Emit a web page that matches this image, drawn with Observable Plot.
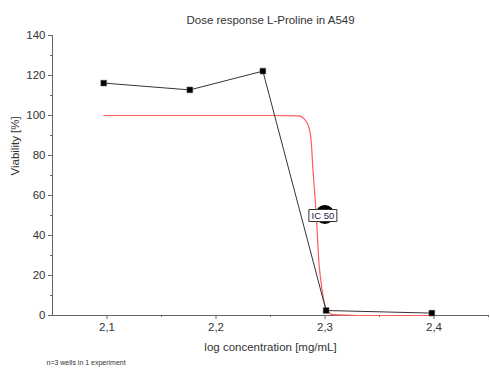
<!DOCTYPE html>
<html>
<head>
<meta charset="utf-8">
<script src="https://cdn.jsdelivr.net/npm/d3@7"></script>
<script src="https://cdn.jsdelivr.net/npm/@observablehq/plot@0.6"></script>
<style>
  html, body { margin: 0; padding: 0; background: #fff; }
</style>
</head>
<body>
<div id="chart"></div>
<script>
// Measured viability at each log10 concentration (mg/mL)
const logConc = [2.097, 2.176, 2.243, 2.301, 2.398];
const viability = [116.2, 112.8, 122.2, 2.5, 1.2];

// Fitted dose-response curve, sampled along its path
const fitX = [2.097, 2.25, 2.2757, 2.2821, 2.2851, 2.2873, 2.2888, 2.2906, 2.292, 2.2943, 2.2974, 2.3005, 2.3035, 2.3066, 2.33, 2.398];
const fitY = [100, 100, 99.8, 97.5, 94.2, 87.5, 74.2, 60.8, 50, 27.5, 12.5, 4.2, 1.7, 0.4, 0, 0];

// IC50 position on the fit
const ic50X = [2.2985];
const ic50Y = [50];

const xMajor = [2.1, 2.2, 2.3, 2.4];
const xMinor = [2.15, 2.25, 2.35, 2.45];
const yMajor = [0, 20, 40, 60, 80, 100, 120, 140];
const yMinor = [10, 30, 50, 70, 90, 110, 130];

const titleText = "Dose response L-Proline in A549";
const xLabel = "log concentration [mg/mL]";
const yLabel = "Viability [%]";
const footnote = "n=3 wells in 1 experiment";

const points = logConc.map((x, i) => ({x, y: viability[i]}));
const fit = fitX.map((x, i) => ({x, y: fitY[i]}));
const ic50 = ic50X.map((x, i) => ({x, y: ic50Y[i], label: "IC 50"}));

const commaFmt = d => d.toFixed(1).replace(".", ",");
const axisColor = "#666";

// Rectangular label box drawn as a dot symbol of fixed size
const labelBox = {draw(ctx) { ctx.rect(-14, -6, 28, 12); }};

const chart = Plot.plot({
  width: 490,
  height: 381,
  marginLeft: 52,
  marginRight: 2,
  marginTop: 35,
  marginBottom: 66,
  style: {fontFamily: "'Liberation Sans', Arial, sans-serif", fontSize: "11px", color: "#333", background: "#fff"},
  x: {domain: [2.05, 2.45], label: null},
  y: {domain: [0, 140], label: null},
  marks: [
    // axis lines
    Plot.ruleX([2.05], {stroke: axisColor, strokeWidth: 1}),
    Plot.ruleY([0], {stroke: axisColor, strokeWidth: 1}),
    // y axis
    Plot.axisY(yMajor, {tickSize: 4, tickPadding: 3, stroke: axisColor, fill: "#333", fontSize: 11.5}),
    Plot.axisY(yMinor, {tickSize: 2, tickFormat: () => "", stroke: axisColor}),
    // x axis
    Plot.axisX(xMajor, {tickSize: 4, tickPadding: 3, tickFormat: commaFmt, stroke: axisColor, fill: "#333", fontSize: 11.5}),
    Plot.axisX(xMinor, {tickSize: 2, tickFormat: () => "", stroke: axisColor}),
    // fitted curve
    Plot.line(fit, {x: "x", y: "y", stroke: "#ff5b5b", strokeWidth: 1.2, curve: "monotone-x"}),
    // measured data
    Plot.line(points, {x: "x", y: "y", stroke: "#333", strokeWidth: 1}),
    Plot.dot(points, {x: "x", y: "y", symbol: "square", r: 3.3, fill: "#000", stroke: "#666", strokeWidth: 0.5}),
    // IC50 marker and label
    Plot.dot(ic50, {x: "x", y: "y", r: 9.5, fill: "#000", dx: 1.5, dy: -1}),
    Plot.dot(ic50, {x: "x", y: "y", symbol: labelBox, fill: "#fff", stroke: "#333", strokeWidth: 1, dx: -0.5}),
    Plot.text(ic50, {x: "x", y: "y", text: "label", fill: "#22224a", fontSize: 9.5, dx: -0.5}),
    // titles and notes
    Plot.text([titleText], {frameAnchor: "top", dy: -15, lineAnchor: "middle", fontSize: 11.5, fill: "#333"}),
    Plot.text([xLabel], {frameAnchor: "bottom", dy: 32, lineAnchor: "middle", fontSize: 11.5, fill: "#333"}),
    Plot.text([yLabel], {frameAnchor: "left", dx: -37, rotate: -90, lineAnchor: "middle", fontSize: 11.5, fill: "#333"}),
    Plot.text([footnote], {frameAnchor: "bottom-left", dx: -6, dy: 47, textAnchor: "start", lineAnchor: "middle", fontSize: 7, fill: "#333"})
  ]
});

document.getElementById("chart").appendChild(chart);
</script>
</body>
</html>
